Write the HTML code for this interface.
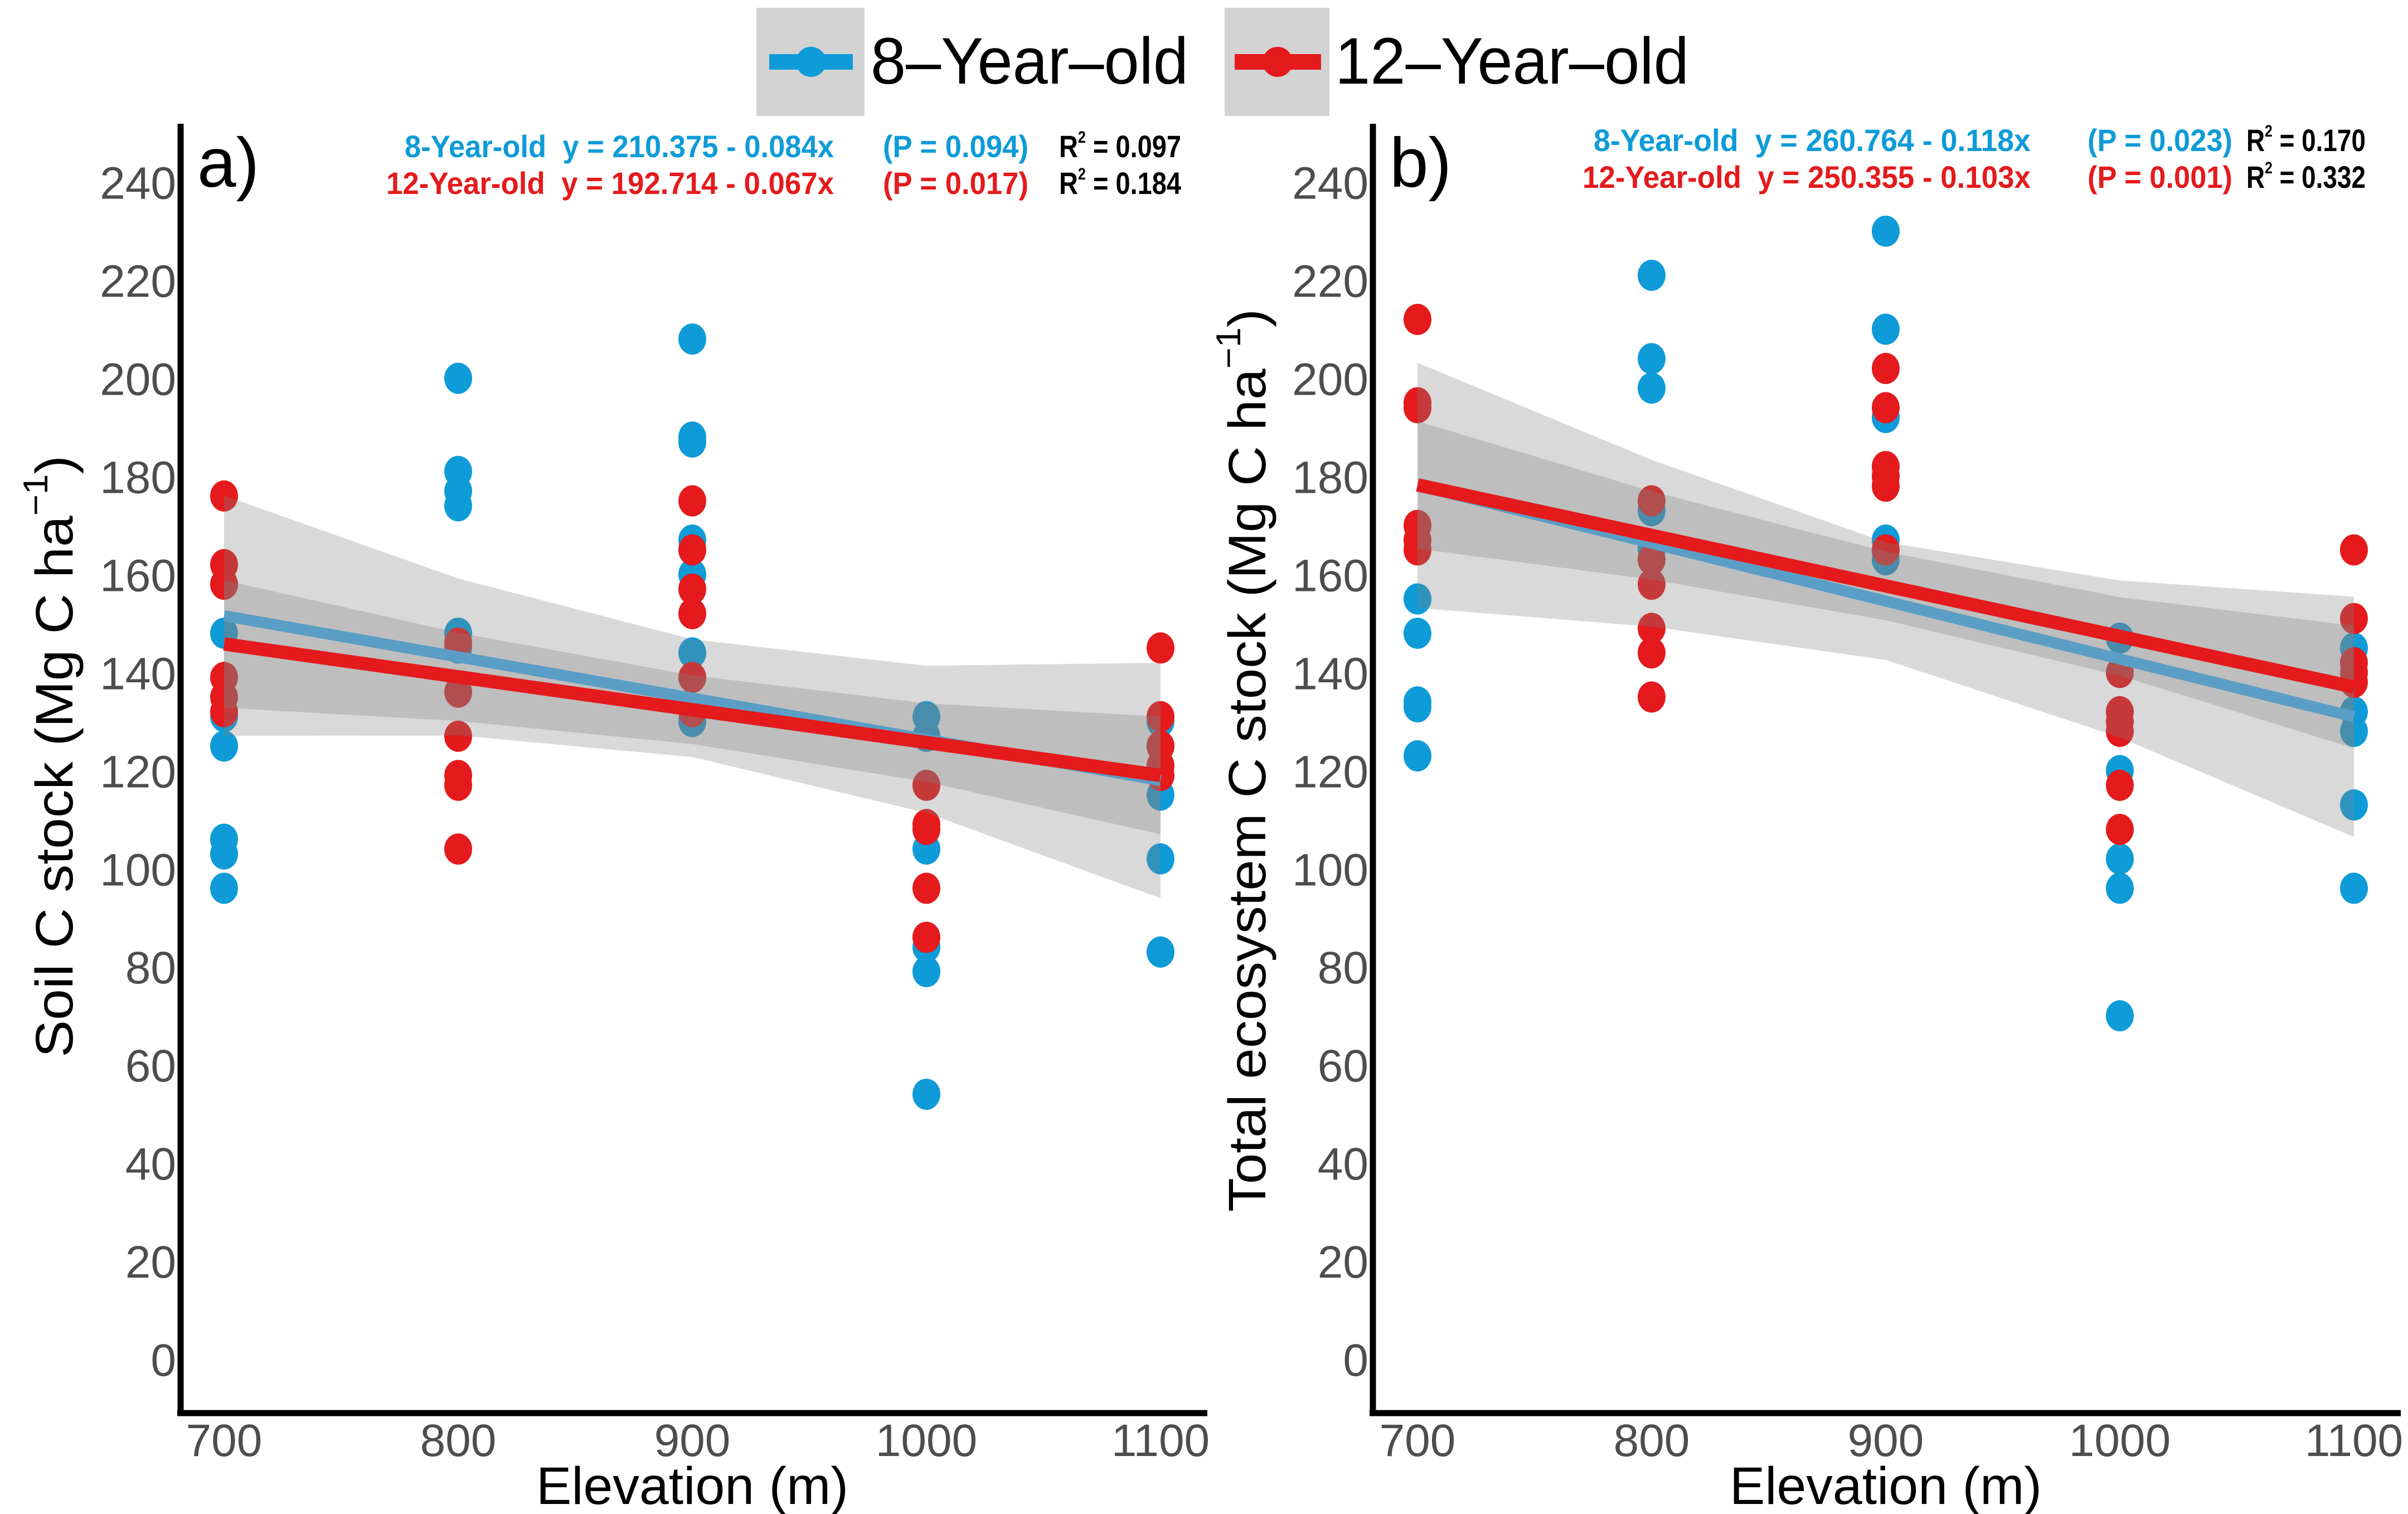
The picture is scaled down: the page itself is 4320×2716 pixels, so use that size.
<!DOCTYPE html>
<html><head><meta charset="utf-8"><style>
html,body{margin:0;padding:0;background:#fff;}
svg{display:block;font-family:"Liberation Sans",sans-serif;}
</style></head><body>
<svg id="chart" width="4320" height="2716" viewBox="0 0 4320 2716" xmlns="http://www.w3.org/2000/svg">
<g>
  <rect x="1357" y="14" width="194" height="194" fill="#d3d3d3"/>
  <line x1="1380" y1="111" x2="1530" y2="111" stroke="#0e9bd8" stroke-width="28"/>
  <circle cx="1455" cy="111" r="27" fill="#0e9bd8"/>
  <text x="1562" y="150" font-size="118" textLength="570" lengthAdjust="spacingAndGlyphs">8–Year–old</text>
  <rect x="2197" y="14" width="188" height="194" fill="#d3d3d3"/>
  <line x1="2215" y1="111" x2="2370" y2="111" stroke="#e41a1c" stroke-width="28"/>
  <circle cx="2292" cy="111" r="27" fill="#e41a1c"/>
  <text x="2395" y="150" font-size="118" textLength="635" lengthAdjust="spacingAndGlyphs">12–Year–old</text>
</g>
<g id="pa"></g>
<g id="pb"></g>
</svg>
<script>
const elevations = [700, 800, 900, 1000, 1100];
const yTicks = [0, 20, 40, 60, 80, 100, 120, 140, 160, 180, 200, 220, 240];
// Panel a: soil C stock
const aBlue700 = [148, 131, 125, 106, 103, 96];
const aBlue800 = [200, 181, 177, 174, 148, 145];
const aBlue900 = [208, 188, 187, 167, 160, 144, 130];
const aBlue1000 = [131, 127, 104, 84, 79, 54];
const aBlue1100 = [130, 125, 115, 102, 83];
const aRed700 = [176, 162, 158, 139, 135, 132];
const aRed800 = [146, 136, 127, 119, 117, 104];
const aRed900 = [175, 165, 157, 152, 139, 132];
const aRed1000 = [117, 109, 108, 96, 86];
const aRed1100 = [145, 131, 125, 121, 119];
const aBlueFit = [210.375, -0.084];
const aRedFit = [192.714, -0.067];
const aBlueBand = [24.5, 16, 12, 15, 24];
const aRedBand = [13, 9, 7, 8, 12];
// Panel b: total ecosystem C stock
const bBlue700 = [155, 148, 134, 133, 123];
const bBlue800 = [221, 204, 198, 173, 165];
const bBlue900 = [230, 210, 192, 167, 163];
const bBlue1000 = [147, 120, 102, 96, 70];
const bBlue1100 = [145, 132, 128, 113, 96];
const bRed700 = [212, 195, 194, 170, 167, 165];
const bRed800 = [175, 163, 158, 149, 144, 135];
const bRed900 = [202, 194, 182, 180, 178, 165];
const bRed1000 = [140, 132, 130, 128, 117, 108];
const bRed1100 = [165, 151, 142, 140, 138];
const bBlueFit = [260.764, -0.118];
const bRedFit = [250.355, -0.103];
const bBlueBand = [25, 17, 12, 16, 24.5];
const bRedBand = [13, 9, 7, 8, 12.5];

const NS = 'http://www.w3.org/2000/svg';
function mk(parent, tag, attrs, txt) {
  const e = document.createElementNS(NS, tag);
  for (const k in attrs) e.setAttribute(k, attrs[k]);
  if (txt !== undefined) e.textContent = txt;
  parent.appendChild(e);
  return e;
}
const BLUE = '#0e9bd8', RED = '#e41a1c';

function panel(gid, cfg) {
  const g = document.getElementById(gid);
  const xs = v => cfg.x700 + (v - 700) * 4.2;
  const ys = v => 2438 - v * 8.797;
  // points
  const blues = cfg.blue, reds = cfg.red;
  elevations.forEach((el, i) => {
    blues[i].forEach(v => {
      const c = mk(g, 'ellipse', {cx: xs(el), cy: ys(v), rx: 25, ry: 28, fill: BLUE});
      
      
    });
  });
  elevations.forEach((el, i) => {
    reds[i].forEach(v => {
      const c = mk(g, 'ellipse', {cx: xs(el), cy: ys(v), rx: 25, ry: 28, fill: RED});
      
      
    });
  });
  // bands
  function band(fit, hw, name) {
    const up = [], lo = [];
    for (let x = 700; x <= 1100; x += 10) {
      const f = (x - 700) / 100, i = Math.min(3, Math.floor(f)), t = f - i;
      const h = hw[i] * (1 - t) + hw[Math.min(4, i + 1)] * t;
      const yv = fit[0] + fit[1] * x;
      up.push(xs(x) + ',' + ys(yv + h));
      lo.unshift(xs(x) + ',' + ys(yv - h));
    }
    const p = mk(g, 'polygon', {points: up.concat(lo).join(' '), fill: '#808080', 'fill-opacity': 0.3});
    
    
  }
  band(cfg.blueFit, cfg.blueBand, 'ci-band-8yr');
  band(cfg.redFit, cfg.redBand, 'ci-band-12yr');
  const lb = mk(g, 'line', {x1: xs(700), y1: ys(cfg.blueFit[0] + cfg.blueFit[1] * 700), x2: xs(1100), y2: ys(cfg.blueFit[0] + cfg.blueFit[1] * 1100), stroke: '#5a9ec6', 'stroke-width': 20});
  
  
  const lr = mk(g, 'line', {x1: xs(700), y1: ys(cfg.redFit[0] + cfg.redFit[1] * 700), x2: xs(1100), y2: ys(cfg.redFit[0] + cfg.redFit[1] * 1100), stroke: RED, 'stroke-width': 24});
  
  
  // axes
  const ya = mk(g, 'line', {x1: cfg.ax, y1: 222, x2: cfg.ax, y2: 2540, stroke: '#000', 'stroke-width': 11});
  
  
  const xa = mk(g, 'line', {x1: cfg.ax - 6, y1: 2535, x2: cfg.axEnd, y2: 2535, stroke: '#000', 'stroke-width': 11});
  
  
  yTicks.forEach(v => {
    const t = mk(g, 'text', {x: cfg.ax - 8, y: ys(v) + 30, 'font-size': 82, fill: '#4d4d4d', 'text-anchor': 'end'}, String(v));
    
    
  });
  elevations.forEach(v => {
    const t = mk(g, 'text', {x: xs(v), y: 2612, 'font-size': 82, fill: '#4d4d4d', 'text-anchor': 'middle'}, String(v));
    
    
  });
  const xt = mk(g, 'text', {x: xs(900), y: 2698, 'font-size': 95, fill: '#000', 'text-anchor': 'middle', textLength: 560, lengthAdjust: 'spacingAndGlyphs'}, 'Elevation (m)');
  
  
  const yt = mk(g, 'text', {x: 0, y: 0, 'font-size': 95, fill: '#000', 'text-anchor': 'middle', transform: 'translate(' + cfg.ytx + ',' + cfg.yty + ') rotate(-90)', textLength: cfg.ytLen, lengthAdjust: 'spacingAndGlyphs'});
  
  
  yt.innerHTML = cfg.ytitle + ' (Mg C ha<tspan dy="-45" font-size="62">−1</tspan><tspan dy="45">)</tspan>';
  const pl = mk(g, 'text', {x: cfg.ax + 30, y: 335, 'font-size': 125, fill: '#000'}, cfg.label);
  
  
  // annotations
  cfg.ann.forEach(a => {
    const t = mk(g, 'text', {x: a[0], y: a[1], 'font-size': 56, 'font-weight': 'bold', fill: a[2], textLength: a[3], lengthAdjust: 'spacingAndGlyphs'});
    
    
    t.innerHTML = a[4];
  });
}

panel('pa', {
  x700: 402, ax: 324, axEnd: 2166, label: 'a)', ytitle: 'Soil C stock', ytx: 130, yty: 1357, ytLen: 1080,
  blue: [aBlue700, aBlue800, aBlue900, aBlue1000, aBlue1100],
  red: [aRed700, aRed800, aRed900, aRed1000, aRed1100],
  blueFit: aBlueFit, redFit: aRedFit, blueBand: aBlueBand, redBand: aRedBand,
  ann: [
    [726, 282, BLUE, 770, '8-Year-old&#160;&#160;y = 210.375 - 0.084x'],
    [693, 348, RED, 803, '12-Year-old&#160;&#160;y = 192.714 - 0.067x'],
    [1584, 282, BLUE, 261, '(P = 0.094)'],
    [1584, 348, RED, 261, '(P = 0.017)'],
    [1900, 282, '#000', 219, 'R<tspan font-size="30" dy="-26">2</tspan><tspan dy="26"> = 0.097</tspan>'],
    [1900, 348, '#000', 219, 'R<tspan font-size="30" dy="-26">2</tspan><tspan dy="26"> = 0.184</tspan>']
  ]
});
panel('pb', {
  x700: 2543, ax: 2463, axEnd: 4307, label: 'b)', ytitle: 'Total ecosystem C stock', ytx: 2270, yty: 1364, ytLen: 1620,
  blue: [bBlue700, bBlue800, bBlue900, bBlue1000, bBlue1100],
  red: [bRed700, bRed800, bRed900, bRed1000, bRed1100],
  blueFit: bBlueFit, redFit: bRedFit, blueBand: bBlueBand, redBand: bRedBand,
  ann: [
    [2859, 271, BLUE, 784, '8-Year-old&#160;&#160;y = 260.764 - 0.118x'],
    [2839, 337, RED, 804, '12-Year-old&#160;&#160;y = 250.355 - 0.103x'],
    [3745, 271, BLUE, 260, '(P = 0.023)'],
    [3745, 337, RED, 260, '(P = 0.001)'],
    [4030, 271, '#000', 214, 'R<tspan font-size="30" dy="-26">2</tspan><tspan dy="26"> = 0.170</tspan>'],
    [4030, 337, '#000', 214, 'R<tspan font-size="30" dy="-26">2</tspan><tspan dy="26"> = 0.332</tspan>']
  ]
});
</script>
</body></html>
